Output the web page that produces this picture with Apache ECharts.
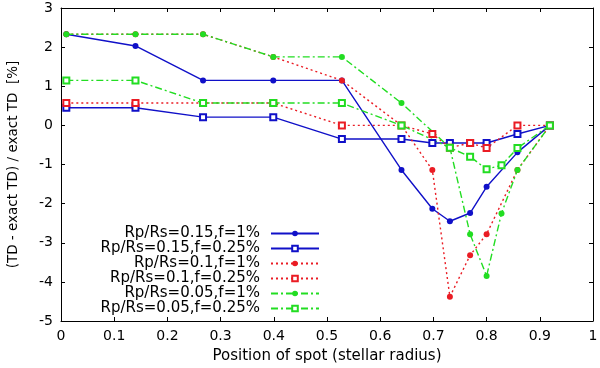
<!DOCTYPE html>
<html>
<head>
<meta charset="utf-8">
<script src="https://cdn.jsdelivr.net/npm/echarts@6/dist/echarts.min.js"></script>
<style>
    html, body { margin: 0; padding: 0; background: #fff; }
    #chart { width: 600px; height: 368px; }
</style>
</head>
<body>
<div id="chart"></div>
<script>
// spot positions (stellar radius), shared by all curves
const positions = [0.01, 0.14, 0.267, 0.399, 0.528, 0.64, 0.698, 0.731, 0.769, 0.80, 0.828, 0.858, 0.919];

// null = no point at that position
const rp015_f1   = [2.33, 2.03, 1.15, 1.15, 1.15, -1.14, -2.13, -2.45, -2.24, -1.57, null, -0.69, 0];
const rp015_f025 = [0.45, 0.45, 0.21, 0.21, -0.35, -0.35, -0.45, -0.45, -0.45, -0.45, null, -0.22, 0];
const rp010_f1   = [2.33, 2.33, 2.33, 1.75, 1.15, 0, -1.14, -4.38, -3.32, -2.78, null, -1.14, 0];
const rp010_f025 = [0.57, 0.57, 0.57, 0.57, 0, 0, -0.22, -0.57, -0.45, -0.58, null, 0, 0];
const rp005_f1   = [2.33, 2.33, 2.33, 1.75, 1.75, 0.57, null, -0.57, -2.78, -3.85, -2.25, -1.14, 0];
const rp005_f025 = [1.15, 1.15, 0.57, 0.57, 0.57, 0, null, -0.57, -0.8, -1.12, -1.02, -0.58, 0];

const names = [
    'Rp/Rs=0.15,f=1%',
    'Rp/Rs=0.15,f=0.25%',
    'Rp/Rs=0.1,f=1%',
    'Rp/Rs=0.1,f=0.25%',
    'Rp/Rs=0.05,f=1%',
    'Rp/Rs=0.05,f=0.25%'
];

const BLUE  = '#1010c8';
const RED   = '#ea1c24';
const GREEN = '#22dd22';
const font  = 'DejaVu Sans';

const pairs = ys => positions.map((x, i) => [x, ys[i]]);

const makeSeries = (name, ys, color, dash, filled) => ({
    name: name,
    type: 'line',
    data: pairs(ys),
    connectNulls: true,
    symbol: filled ? 'circle' : 'emptyRect',
    symbolSize: 6,
    showSymbol: true,
    itemStyle: { color: color, borderColor: color, borderWidth: filled ? 0 : 1.1 },
    lineStyle: { color: color, width: 1.4, type: dash },
    emphasis: { disabled: true }
});

const tickStyle = { show: true, inside: true, length: 4, lineStyle: { color: '#000', width: 1 } };
const lineBlack = { show: true, onZero: false, lineStyle: { color: '#000', width: 1 } };

const chart = echarts.init(document.getElementById('chart'));

chart.setOption({
    animation: false,
    backgroundColor: '#fff',
    textStyle: { fontFamily: font, color: '#000' },
    grid: { left: 61, right: 7, top: 8, bottom: 47, containLabel: false, outerBoundsMode: 'none' },
    legend: {
        orient: 'vertical',
        align: 'right',
        right: 280,
        top: 226,
        padding: 0,
        itemGap: 0,
        itemWidth: 48,
        itemHeight: 7,
        data: names,
        textStyle: { fontFamily: font, fontSize: 15, color: '#000', padding: [0, 6, 0, 0] }
    },
    xAxis: [
        {
            type: 'value',
            min: 0,
            max: 1,
            interval: 0.1,
            name: 'Position of spot (stellar radius)',
            nameLocation: 'middle',
            nameGap: 28,
            nameTextStyle: { fontFamily: font, fontSize: 15, color: '#000' },
            axisLine: lineBlack,
            axisTick: tickStyle,
            axisLabel: { fontFamily: font, fontSize: 14, color: '#000', margin: 8 },
            splitLine: { show: false }
        },
        {
            type: 'value',
            position: 'top',
            min: 0,
            max: 1,
            interval: 0.1,
            axisLine: lineBlack,
            axisTick: tickStyle,
            axisLabel: { show: false },
            splitLine: { show: false }
        }
    ],
    yAxis: [
        {
            type: 'value',
            min: -5,
            max: 3,
            interval: 1,
            name: '(TD - exact TD) / exact TD  [%]',
            nameLocation: 'middle',
            nameGap: 41,
            nameTextStyle: { fontFamily: font, fontSize: 13.5, color: '#000' },
            axisLine: lineBlack,
            axisTick: tickStyle,
            axisLabel: { fontFamily: font, fontSize: 14, color: '#000', margin: 8 },
            splitLine: { show: false }
        },
        {
            type: 'value',
            position: 'right',
            min: -5,
            max: 3,
            interval: 1,
            axisLine: lineBlack,
            axisTick: tickStyle,
            axisLabel: { show: false },
            splitLine: { show: false }
        }
    ],
    series: [
        makeSeries(names[0], rp015_f1,   BLUE,  'solid', true),
        makeSeries(names[1], rp015_f025, BLUE,  'solid', false),
        makeSeries(names[2], rp010_f1,   RED,   [2, 3], true),
        makeSeries(names[3], rp010_f025, RED,   [2, 3], false),
        makeSeries(names[4], rp005_f1,   GREEN, [7, 3, 2, 3], true),
        makeSeries(names[5], rp005_f025, GREEN, [7, 3, 2, 3], false)
    ]
});
</script>
</body>
</html>
